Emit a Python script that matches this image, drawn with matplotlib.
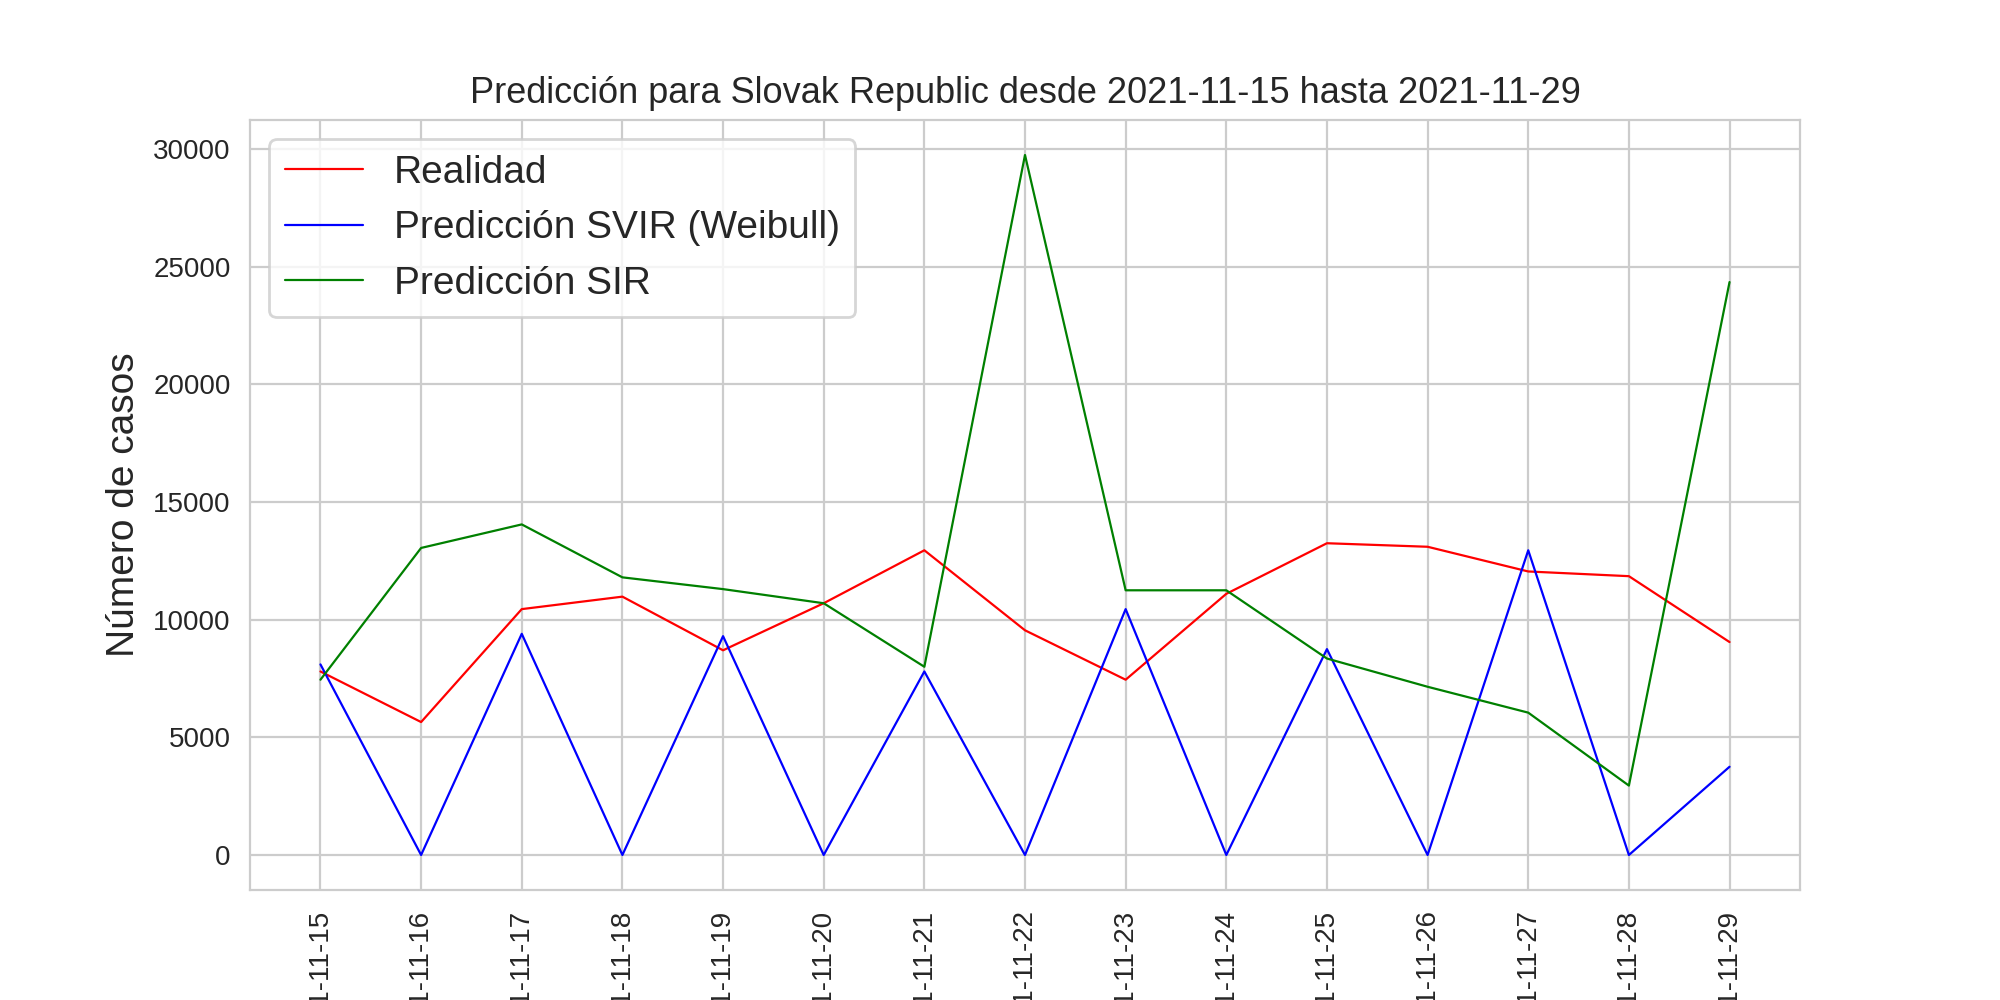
import matplotlib
matplotlib.use("Agg")
import matplotlib.pyplot as plt
import seaborn as sns

sns.set_style("whitegrid")
plt.rcParams['font.family'] = ['Liberation Sans', 'DejaVu Sans']

fechas = ["2021-11-15", "2021-11-16", "2021-11-17", "2021-11-18", "2021-11-19",
          "2021-11-20", "2021-11-21", "2021-11-22", "2021-11-23", "2021-11-24",
          "2021-11-25", "2021-11-26", "2021-11-27", "2021-11-28", "2021-11-29"]
realidad = [7800, 5650, 10450, 10980, 8700, 10700, 12950, 9550, 7450, 11100,
            13250, 13100, 12050, 11850, 9050]
svir = [8100, 0, 9400, 0, 9300, 0, 7800, 0, 10450, 0, 8750, 0, 12950, 0, 3750]
sir = [7450, 13050, 14050, 11800, 11300, 10700, 8000, 29750, 11250, 11250,
       8350, 7150, 6050, 2950, 24350]

fig, ax = plt.subplots(figsize=(10, 5), dpi=200)
ax.plot(fechas, realidad, color="red", lw=0.8, label="Realidad")
ax.plot(fechas, svir, color="blue", lw=0.8, label="Predicción SVIR (Weibull)")
ax.plot(fechas, sir, color="green", lw=0.8, label="Predicción SIR")

ax.set_title("Predicción para Slovak Republic desde 2021-11-15 hasta 2021-11-29", fontsize=13)
ax.set_ylabel("Número de casos", fontsize=14)
ax.tick_params(axis="both", labelsize=10)
plt.xticks(rotation=90)
ax.legend(fontsize=14, loc="upper left")
for s in ax.spines.values():
    s.set_color("#cccccc")

fig.savefig("out.png")
